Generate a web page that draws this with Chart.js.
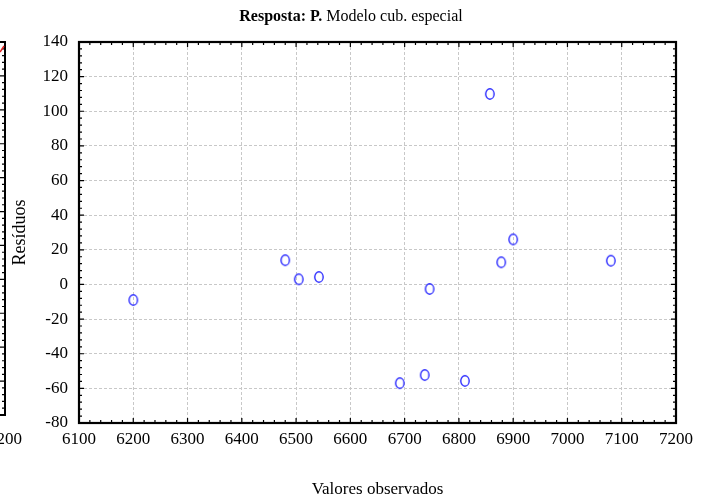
<!DOCTYPE html>
<html>
<head>
<meta charset="utf-8">
<script src="https://cdn.jsdelivr.net/npm/chart.js@4"></script>
<style>
  html, body { margin: 0; padding: 0; background: #fff; }
  #wrap { width: 712px; height: 504px; }
</style>
</head>
<body>
<div id="wrap"><canvas id="grafico" width="712" height="504"></canvas></div>
<script>
// Valores observados x residuos
const observados = [6200, 6480, 6505, 6542, 6746, 6857, 6878, 6900, 7080, 6691, 6737, 6811];
const residuos = [-9, 14, 3, 4.3, -2.6, 110, 12.8, 26, 13.7, -57, -52.3, -55.7];

const ticksX = [6100, 6200, 6300, 6400, 6500, 6600, 6700, 6800, 6900, 7000, 7100, 7200];
const ticksY = [-80, -60, -40, -20, 0, 20, 40, 60, 80, 100, 120, 140];

const fonte = '"Liberation Serif", "Times New Roman", serif';

// marcador: elipse azul vazia
function marcador() {
    const c = document.createElement('canvas');
    c.width = 12; c.height = 14;
    const g = c.getContext('2d');
    g.strokeStyle = '#2a2aff';
    g.lineWidth = 1.4;
    g.beginPath();
    g.ellipse(6, 7, 4.2, 5.2, 0, 0, Math.PI * 2);
    g.stroke();
    return c;
}

// titulo com parte em negrito
const tituloPlugin = {
    id: 'titulo',
    afterDraw(chart) {
        const ctx = chart.ctx;
        const negrito = 'Resposta: P.';
        const resto = ' Modelo cub. especial';
        ctx.save();
        ctx.fillStyle = '#000';
        ctx.textBaseline = 'middle';
        ctx.font = 'bold 16px ' + fonte;
        const w1 = ctx.measureText(negrito).width;
        ctx.font = '16px ' + fonte;
        const w2 = ctx.measureText(resto).width;
        const x0 = 351 - (w1 + w2) / 2;
        ctx.font = 'bold 16px ' + fonte;
        ctx.fillText(negrito, x0, 17);
        ctx.font = '16px ' + fonte;
        ctx.fillText(resto, x0 + w1, 17);
        ctx.restore();
    }
};

// moldura com marcas para dentro, nos quatro lados
const molduraPlugin = {
    id: 'moldura',
    afterDatasetsDraw(chart) {
        const ctx = chart.ctx;
        const a = chart.chartArea;
        const sx = chart.scales.x, sy = chart.scales.y;
        ctx.save();
        ctx.strokeStyle = '#000';
        ctx.lineWidth = 1.2;
        ctx.beginPath();
        for (let i = 0; i < ticksX.length; i++) {
            const px = sx.getPixelForValue(ticksX[i]);
            ctx.moveTo(px, a.bottom); ctx.lineTo(px, a.bottom - 5);
            ctx.moveTo(px, a.top); ctx.lineTo(px, a.top + 5);
            if (i < ticksX.length - 1) {
                const passo = (ticksX[i + 1] - ticksX[i]) / 5;
                for (let k = 1; k < 5; k++) {
                    const m = sx.getPixelForValue(ticksX[i] + passo * k);
                    ctx.moveTo(m, a.bottom); ctx.lineTo(m, a.bottom - 3);
                    ctx.moveTo(m, a.top); ctx.lineTo(m, a.top + 3);
                }
            }
        }
        for (let i = 0; i < ticksY.length; i++) {
            const py = sy.getPixelForValue(ticksY[i]);
            ctx.moveTo(a.left, py); ctx.lineTo(a.left + 5, py);
            ctx.moveTo(a.right, py); ctx.lineTo(a.right - 5, py);
            if (i < ticksY.length - 1) {
                const passo = (ticksY[i + 1] - ticksY[i]) / 5;
                for (let k = 1; k < 5; k++) {
                    const m = sy.getPixelForValue(ticksY[i] + passo * k);
                    ctx.moveTo(a.left, m); ctx.lineTo(a.left + 3, m);
                    ctx.moveTo(a.right, m); ctx.lineTo(a.right - 3, m);
                }
            }
        }
        ctx.stroke();
        ctx.lineWidth = 2.2;
        ctx.strokeRect(a.left, a.top, a.right - a.left, a.bottom - a.top);

        // borda do painel vizinho, cortada na esquerda
        ctx.lineWidth = 2;
        ctx.beginPath();
        ctx.moveTo(0, 42); ctx.lineTo(5, 42); ctx.lineTo(5, 415); ctx.lineTo(0, 415);
        ctx.stroke();
        ctx.lineWidth = 1.2;
        ctx.beginPath();
        for (let i = 0; i < ticksY.length; i++) {
            const py = 42 + (415 - 42) * i / (ticksY.length - 1);
            ctx.moveTo(5, py); ctx.lineTo(0, py);
            for (let k = 1; k < 5 && i < ticksY.length - 1; k++) {
                const m = py + (415 - 42) / (ticksY.length - 1) * k / 5;
                ctx.moveTo(5, m); ctx.lineTo(2, m);
            }
        }
        ctx.stroke();
        ctx.strokeStyle = '#e02020';
        ctx.lineWidth = 1.5;
        ctx.beginPath();
        ctx.moveTo(0, 52); ctx.lineTo(4, 46);
        ctx.stroke();
        ctx.fillStyle = '#000';
        ctx.font = '17px ' + fonte;
        ctx.textAlign = 'center';
        ctx.textBaseline = 'middle';
        ctx.fillText('6200', 5, 440);
        ctx.restore();
    }
};

const ponto = marcador();

new Chart(document.getElementById('grafico'), {
    type: 'scatter',
    data: {
        datasets: [{
            data: observados.map((v, i) => ({ x: v, y: residuos[i] })),
            pointStyle: ponto,
            pointRadius: 5,
            pointHoverRadius: 5
        }]
    },
    options: {
        responsive: false,
        animation: false,
        layout: { padding: { left: 0, right: 36, top: 42, bottom: 0 } },
        plugins: {
            legend: { display: false },
            tooltip: { enabled: false }
        },
        scales: {
            x: {
                type: 'linear',
                min: 6100,
                max: 7200,
                afterBuildTicks: s => { s.ticks = ticksX.map(v => ({ value: v })); },
                afterFit: s => { s.height = 81; },
                grid: { color: '#c8c8c8', lineWidth: 1, drawTicks: false },
                border: { display: false, dash: [3, 2] },
                ticks: {
                    padding: 6,
                    color: '#000',
                    maxRotation: 0,
                    font: { family: fonte, size: 17 },
                    callback: v => String(v)
                },
                title: {
                    display: true,
                    text: 'Valores observados',
                    color: '#000',
                    font: { family: fonte, size: 17 },
                    padding: { top: 0, bottom: 4 }
                }
            },
            y: {
                type: 'linear',
                min: -80,
                max: 140,
                afterBuildTicks: s => { s.ticks = ticksY.map(v => ({ value: v })); },
                afterFit: s => { s.width = 79; },
                grid: { color: '#c8c8c8', lineWidth: 1, drawTicks: false },
                border: { display: false, dash: [3, 2] },
                ticks: {
                    padding: 11,
                    color: '#000',
                    font: { family: fonte, size: 17 },
                    callback: v => String(v)
                },
                title: {
                    display: true,
                    text: 'Resíduos',
                    color: '#000',
                    font: { family: fonte, size: 18 },
                    padding: { top: 9, bottom: 0 }
                }
            }
        }
    },
    plugins: [tituloPlugin, molduraPlugin]
});
</script>
</body>
</html>
